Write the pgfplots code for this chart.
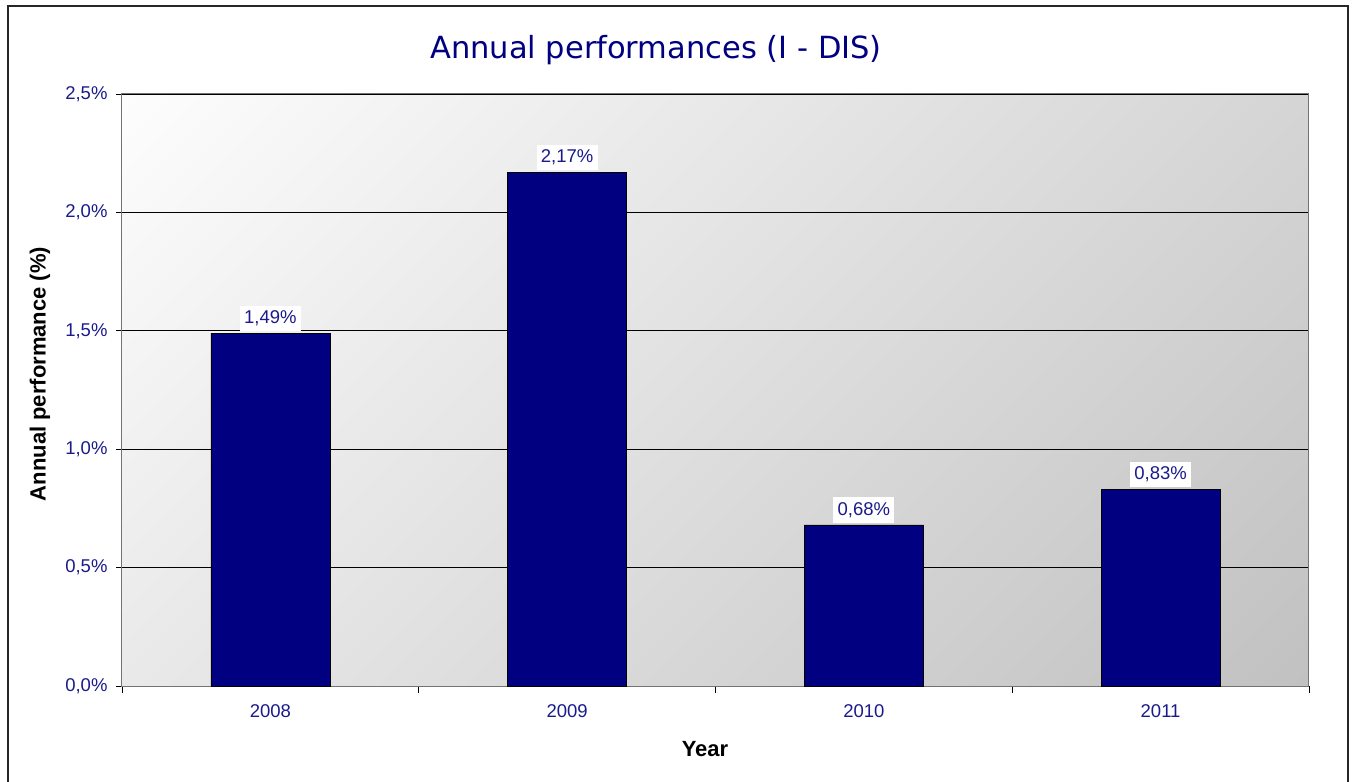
\documentclass[border=0pt]{standalone}
\usepackage{pgfplots}
\pgfplotsset{compat=1.18}
\usepackage{fontspec}
\setmainfont{Liberation Sans}
\newfontfamily\titlefont{DejaVu Sans}
\definecolor{navy}{HTML}{000080}
\definecolor{tickblue}{HTML}{1A1A8C}
\definecolor{bglight}{HTML}{FDFDFD}
\definecolor{bgdark}{HTML}{C1C1C1}
\pgfdeclareverticalshading{diagbg}{100bp}{color(0bp)=(bgdark); color(14.64bp)=(bgdark); color(85.36bp)=(bglight); color(100bp)=(bglight)}
\begin{document}
\begin{tikzpicture}
\useasboundingbox (-122pt,-96pt) rectangle (1231pt,686pt);
\begin{axis}[
  at={(0pt,0pt)}, anchor=south west,
  scale only axis, width=1187pt, height=592pt,
  xmin=-0.5, xmax=3.5, ymin=0, ymax=2.5,
  ytick={0,0.5,1,1.5,2,2.5},
  ymajorgrids, grid style={black, line width=0.8pt},
  xtick={0,1,2,3}, xticklabels={2008,2009,2010,2011},
  major x tick style={draw=none},
  minor xtick={-0.5,0.5,1.5,2.5,3.5},
  tick pos=left, tick align=outside,
  major tick length=6pt, minor tick length=7pt,
  tick style={black, line width=0.8pt},
  axis line style={black!55, line width=1pt},
  /pgf/number format/assume math mode=true,
  yticklabel={\pgfmathprintnumber[fixed,fixed zerofill,precision=1,use comma]{\tick}\%},
  ticklabel style={font=\fontsize{18.5}{22}\selectfont, text=tickblue},
  yticklabel style={xshift=-5pt},
  xticklabel style={yshift=-9pt},
  axis background/.style={shade, shading=diagbg, shading angle=45},
  ybar, bar width=119pt,
  nodes near coords={\pgfmathprintnumber[fixed,fixed zerofill,precision=2,use comma]{\pgfplotspointmeta}\%},
  every node near coord/.append style={font=\fontsize{18.5}{22}\selectfont, text=tickblue, fill=white, inner xsep=4.3pt, inner ysep=5pt, yshift=2pt},
]
\addplot[fill=navy, draw=black, line width=0.6pt] coordinates {(0,1.49) (1,2.17) (2,0.68) (3,0.83)};
\end{axis}
\node[font=\titlefont\fontsize{30.5}{34}\selectfont, text=navy] at (534pt,636pt) {Annual performances (I - DIS)};
\node[font=\bfseries\fontsize{22}{26}\selectfont, rotate=90] at (-82pt,312pt) {Annual performance (\%)};
\node[font=\bfseries\fontsize{22}{26}\selectfont] at (583pt,-63pt) {Year};
\draw[line width=2pt, black!85] (-114pt,-110pt) rectangle (1226pt,680pt);
\end{tikzpicture}
\end{document}
